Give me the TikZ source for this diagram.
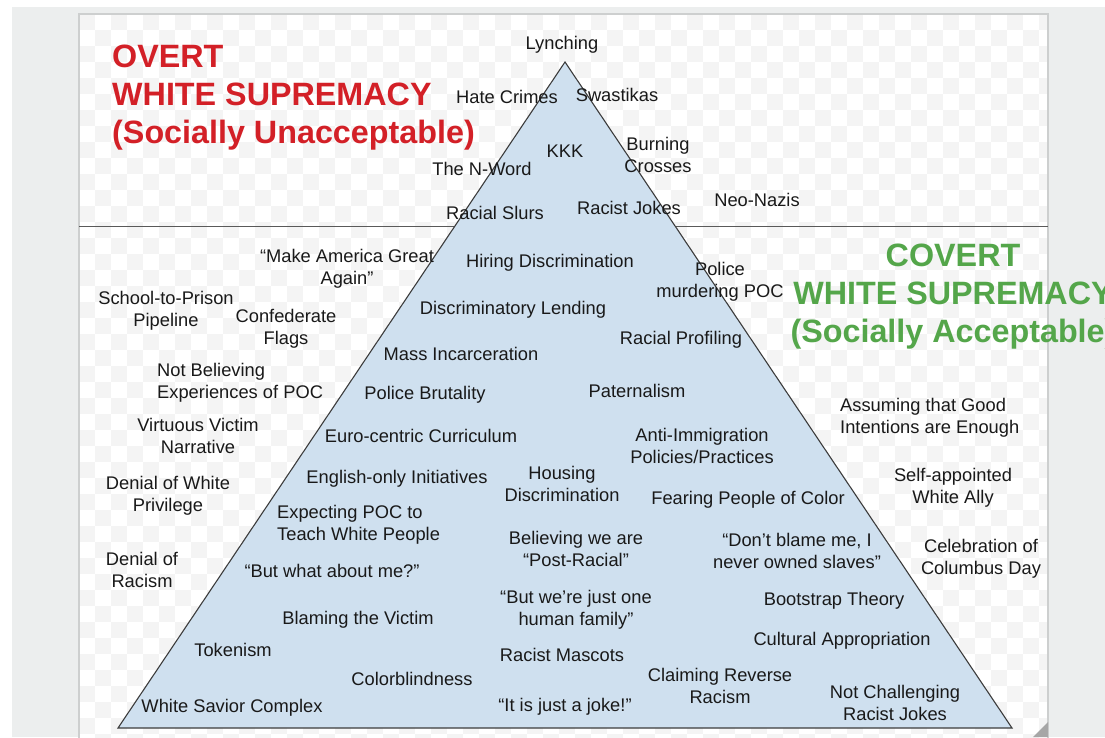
\documentclass[tikz,border=0pt]{standalone}
\usepackage{fontspec}
\setmainfont{Liberation Sans}
\definecolor{pagebg}{RGB}{236,238,238}
\definecolor{panelline}{RGB}{205,207,207}
\definecolor{checker}{RGB}{244,244,244}
\definecolor{divider}{RGB}{90,90,90}
\definecolor{pyrfill}{RGB}{207,224,239}
\definecolor{pyredge}{RGB}{60,60,60}
\definecolor{ink}{RGB}{25,25,25}
\definecolor{overtred}{RGB}{211,32,39}
\definecolor{covertgreen}{RGB}{84,166,74}
\begin{document}
\begin{tikzpicture}[x=1pt,y=-1pt,
  lbl/.style={font=\fontsize{18.3}{22}\selectfont, text=ink, align=center, inner sep=0pt},
  lbll/.style={lbl, align=left},
  title/.style={font=\fontsize{32.3}{38}\selectfont\bfseries, inner sep=0pt}]
\useasboundingbox (0,0) rectangle (1105,737);
\begin{scope}
\clip (0,0) rectangle (1105,737);
% page and panel
\fill[pagebg] (0,0) rectangle (1105,737);
\fill[white] (0,0) rectangle (1105,7);
\fill[white] (0,0) rectangle (12,737);
\fill[white] (79,14) rectangle (1048,740);
% faint checkered backdrop of the panel
\begin{scope}
\clip (79,14) rectangle (1048,740);
\foreach \i in {0,...,60}{
  \foreach \j in {0,...,45}{
    \pgfmathtruncatemacro\parity{mod(\i+\j,2)}
    \ifnum\parity=0
      \fill[checker] (79+16*\i,14+16*\j) rectangle ++(16,16);
    \fi
  }
}
\end{scope}
\draw[panelline, line width=1.2pt] (79,740) -- (79,14) -- (1048,14) -- (1048,740);
% divider between overt and covert
\draw[divider, line width=1pt] (79,226) -- (1048,226);
% pyramid
\coordinate (apex) at (565,62);
\coordinate (bl) at (118,728);
\coordinate (br) at (1012,728);
\filldraw[fill=pyrfill, draw=pyredge, line width=1.1pt, line join=miter] (apex) -- (br) -- (bl) -- cycle;
% resize grip
\fill[gray!70] (1048,722) -- (1048,737) -- (1033,737) -- cycle;

% headings
\node[title, text=overtred, align=left, anchor=west] (overt) at (112,98)
  {OVERT\\WHITE SUPREMACY\\(Socially Unacceptable)};
\node[title, text=covertgreen, align=center] (covert) at (953,297)
  {COVERT\\WHITE SUPREMACY\\(Socially Acceptable)};

% overt tier
\node[lbl] (lynching) at (562,45) {Lynching};
\node[lbl] (hate) at (507,97) {Hate Crimes};
\node[lbl] (swastikas) at (617,95) {Swastikas};
\node[lbl] (kkk) at (565,151) {KKK};
\node[lbl] (crosses) at (658,155) {Burning\\Crosses};
\node[lbl] (nword) at (482,169) {The N-Word};
\node[lbl] (slurs) at (495,213) {Racial Slurs};
\node[lbl] (jokes) at (629,208) {Racist Jokes};
\node[lbl] (neonazis) at (757,200) {Neo-Nazis};

% covert, outside the pyramid (left)
\node[lbl] (maga) at (347,269) {“Make America Great\\Again"};
\node[lbl] (pipeline) at (166,311) {School-to-Prison\\Pipeline};
\node[lbl] (flags) at (286,329) {Confederate\\Flags};
\node[lbll, anchor=west] (believing) at (157,383) {Not Believing\\Experiences of POC};
\node[lbl] (virtuous) at (198,436) {Virtuous Victim\\Narrative};
\node[lbl] (privilege) at (168,496) {Denial of White\\Privilege};
\node[lbl] (denial) at (142,570) {Denial of\\Racism};

% covert, outside the pyramid (right)
\node[lbll, anchor=west] (intentions) at (840,418) {Assuming that Good\\Intentions are Enough};
\node[lbl] (ally) at (953,488) {Self-appointed\\White Ally};
\node[lbl] (columbus) at (981,559) {Celebration of\\Columbus Day};

% covert, inside the pyramid
\node[lbl] (hiring) at (550,263) {Hiring Discrimination};
\node[lbl] (murdering) at (720,282) {Police\\murdering POC};
\node[lbl] (lending) at (513,310) {Discriminatory Lending};
\node[lbl] (profiling) at (681,340) {Racial Profiling};
\node[lbl] (mass) at (461,354) {Mass Incarceration};
\node[lbl] (brutality) at (425,395) {Police Brutality};
\node[lbl] (paternalism) at (637,391) {Paternalism};
\node[lbl] (curriculum) at (421,436) {Euro-centric Curriculum};
\node[lbl] (immigration) at (702,446) {Anti-Immigration\\Policies/Practices};
\node[lbl] (english) at (397,479) {English-only Initiatives};
\node[lbl] (housing) at (562,484) {Housing\\Discrimination};
\node[lbl] (fearing) at (748,500) {Fearing People of Color};
\node[lbll, anchor=west] (expecting) at (277,525) {Expecting POC to\\Teach White People};
\node[lbl] (postracial) at (576,549) {Believing we are\\“Post-Racial"};
\node[lbl] (slaves) at (797,551) {“Don’t blame me, I\\never owned slaves"};
\node[lbl] (aboutme) at (332,571) {“But what about me?"};
\node[lbl] (family) at (576,610) {“But we’re just one\\human family"};
\node[lbl] (bootstrap) at (834,601) {Bootstrap Theory};
\node[lbl] (blaming) at (358,620) {Blaming the Victim};
\node[lbl] (appropriation) at (842,641) {Cultural Appropriation};
\node[lbl] (tokenism) at (233,650) {Tokenism};
\node[lbl] (mascots) at (562,655) {Racist Mascots};
\node[lbl] (colorblind) at (412,679) {Colorblindness};
\node[lbl] (reverse) at (720,686) {Claiming Reverse\\Racism};
\node[lbl] (challenging) at (895,703) {Not Challenging\\Racist Jokes};
\node[lbl] (savior) at (232,708) {White Savior Complex};
\node[lbl] (joke) at (565,707) {“It is just a joke!"};
\end{scope}
\end{tikzpicture}
\end{document}
